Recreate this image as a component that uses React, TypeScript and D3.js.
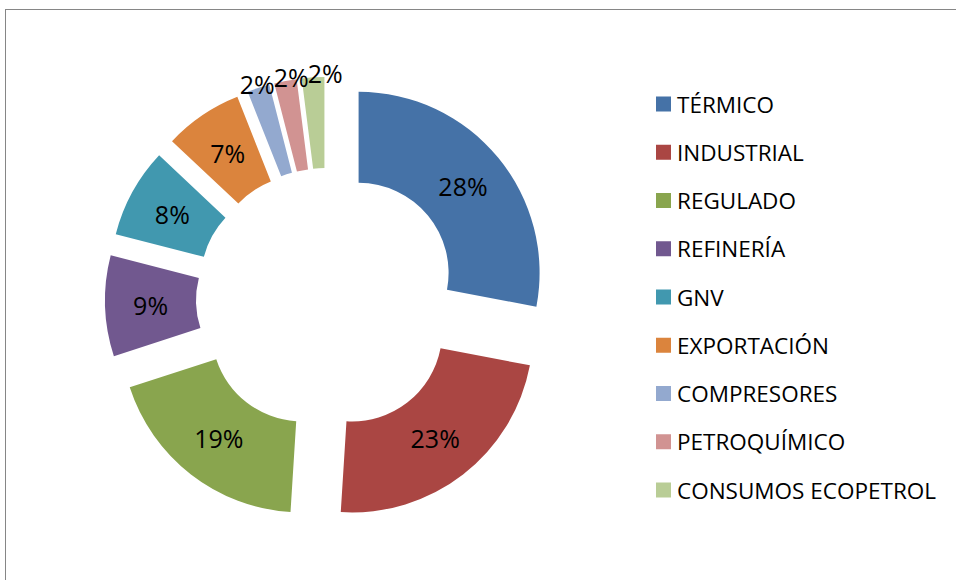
import React, { useRef, useEffect } from 'react';
import * as d3 from 'd3';

const categories = [
  'TÉRMICO', 'INDUSTRIAL', 'REGULADO', 'REFINERÍA', 'GNV',
  'EXPORTACIÓN', 'COMPRESORES', 'PETROQUÍMICO', 'CONSUMOS ECOPETROL'
];
const shares = [28, 23, 19, 9, 8, 7, 2, 2, 2];
const colors = [
  '#4572a7', '#aa4643', '#89a54e', '#71588f', '#4198af',
  '#db843d', '#93a9cf', '#d19392', '#b9cd96'
];

const WIDTH = 956;
const HEIGHT = 580;

export default function App() {
  const svgRef = useRef<SVGSVGElement>(null);

  useEffect(() => {
    const svg = d3.select(svgRef.current);
    svg.selectAll('*').remove();

    // chart frame (cut off at right and bottom)
    svg.append('rect')
      .attr('x', 5.5).attr('y', 9.5)
      .attr('width', WIDTH + 20).attr('height', HEIGHT + 20)
      .attr('fill', 'white')
      .attr('stroke', '#868686')
      .attr('stroke-width', 1);

    const cx = 327;
    const cy = 299;
    const outer = 181;
    const inner = 90;
    const explode = 41;

    const data = categories.map((name, i) => ({ name, value: shares[i], color: colors[i] }));
    const total = d3.sum(shares);

    const pie = d3.pie<any>().value(d => d.value).sort(null);
    const arc = d3.arc<any>().innerRadius(inner).outerRadius(outer);
    const arcs = pie(data);

    const mid = (d: any) => (d.startAngle + d.endAngle) / 2;
    const offset = (d: any) => [explode * Math.sin(mid(d)), -explode * Math.cos(mid(d))];

    const g = svg.append('g').attr('transform', `translate(${cx},${cy})`);

    const slices = g.selectAll('.slice')
      .data(arcs)
      .enter()
      .append('g')
      .attr('class', 'slice')
      .attr('transform', d => `translate(${offset(d)[0]},${offset(d)[1]})`);

    slices.append('path')
      .attr('d', arc)
      .attr('fill', d => d.data.color);

    const font = '"Open Sans", sans-serif';

    // labels inside the ring
    slices.filter(d => d.data.value / total >= 0.05)
      .append('text')
      .attr('transform', d => `translate(${arc.centroid(d)})`)
      .attr('text-anchor', 'middle')
      .attr('dominant-baseline', 'central')
      .attr('font-family', font)
      .attr('font-size', 25)
      .attr('fill', '#000')
      .text(d => `${d.data.value}%`);

    // small slices: labels outside, pushed apart so they don't overlap
    const small = arcs.filter(d => d.data.value / total < 0.05);
    const labelW = 34;
    let prevX = -Infinity;
    const outside = small.map(d => {
      const [ox, oy] = offset(d);
      const r = outer + 4;
      let x = ox + r * Math.sin(mid(d));
      const y = oy - r * Math.cos(mid(d));
      x = Math.max(x, prevX + labelW);
      prevX = x;
      return { x, y, text: `${d.data.value}%` };
    });

    g.selectAll('.outside-label')
      .data(outside)
      .enter()
      .append('text')
      .attr('class', 'outside-label')
      .attr('x', d => d.x)
      .attr('y', d => d.y)
      .attr('text-anchor', 'middle')
      .attr('dominant-baseline', 'central')
      .attr('font-family', font)
      .attr('font-size', 25)
      .attr('fill', '#000')
      .text(d => d.text);

    // Legend
    const y = d3.scalePoint<string>()
      .domain(categories)
      .range([104, 490]);

    const legend = svg.append('g');
    const items = legend.selectAll('.legend-item')
      .data(data)
      .enter()
      .append('g')
      .attr('class', 'legend-item')
      .attr('transform', d => `translate(656,${y(d.name)})`);

    items.append('rect')
      .attr('x', 0)
      .attr('y', -7.5)
      .attr('width', 15)
      .attr('height', 15)
      .attr('fill', d => d.color);

    items.append('text')
      .attr('x', 21)
      .attr('y', 0)
      .attr('dominant-baseline', 'central')
      .attr('font-family', font)
      .attr('font-size', 22.5)
      .attr('fill', '#000')
      .text(d => d.name);
  }, []);

  return (
    <div style={{ position: 'fixed', left: 0, top: 0 }}>
      <svg ref={svgRef} width={WIDTH} height={HEIGHT} style={{ display: 'block' }}></svg>
    </div>
  );
}
